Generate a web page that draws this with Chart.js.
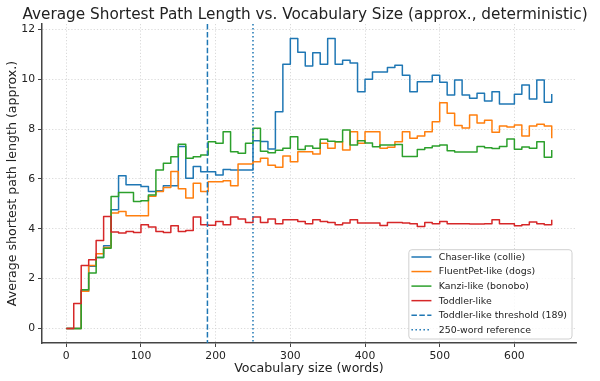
<!DOCTYPE html>
<html>
<head>
<meta charset="utf-8">
<script src="https://cdn.jsdelivr.net/npm/chart.js@4.4.0/dist/chart.umd.min.js"></script>
<style>
  html, body { margin: 0; padding: 0; background: #fff; }
  #wrap { width: 600px; height: 381px; }
</style>
</head>
<body>
<div id="wrap"><canvas id="pathChart" width="600" height="381"></canvas></div>
<script>
// vocabulary sizes (x), one step every 10 words
const vocabSizes = [
  0, 10, 20, 30, 40, 50, 60, 70, 80, 90,
  100, 110, 120, 130, 140, 150, 160, 170, 180, 190,
  200, 210, 220, 230, 240, 250, 260, 270, 280, 290,
  300, 310, 320, 330, 340, 350, 360, 370, 380, 390,
  400, 410, 420, 430, 440, 450, 460, 470, 480, 490,
  500, 510, 520, 530, 540, 550, 560, 570, 580, 590,
  600, 610, 620, 630, 640, 650
];

const chaserLike = [
  0, 0, 1.5, 2.5, 2.85, 3.32, 4.76, 6.13, 5.76, 5.76,
  5.69, 5.49, 5.52, 5.72, 5.72, 7.3, 6.03, 6.5, 6.29, 6.29,
  6.16, 6.38, 6.36, 6.36, 6.36, 7.53, 7.5, 7.2, 8.69, 10.6,
  11.63, 11.08, 10.53, 11.06, 10.6, 11.63, 10.6, 10.76, 10.65, 9.49,
  9.99, 10.29, 10.29, 10.47, 10.56, 10.16, 9.49, 9.89, 9.89, 10.16,
  9.87, 9.36, 9.96, 9.36, 9.23, 9.43, 9.12, 9.49, 9.0, 9.0,
  9.39, 9.76, 9.2, 9.96, 9.07, 9.4
];

const fluentPetLike = [
  0, 0, 1.49, 2.53, 3.0, 3.25, 4.63, 4.69, 4.52, 4.52,
  4.52, 5.3, 5.49, 5.65, 6.3, 5.6, 5.23, 5.83, 5.49, 5.89,
  5.89, 5.93, 5.72, 6.6, 6.6, 6.69, 6.83, 6.55, 6.47, 6.92,
  6.69, 7.09, 7.09, 7.0, 7.43, 7.23, 7.49, 7.16, 7.89, 7.43,
  7.89, 7.89, 7.23, 7.27, 7.49, 7.89, 7.63, 7.72, 7.89, 8.29,
  9.05, 8.63, 8.14, 8.04, 8.56, 8.24, 8.35, 7.87, 8.12, 8.08,
  8.16, 7.72, 8.12, 8.19, 8.12, 7.63
];

const kanziLike = [
  0, 0, 1.56, 2.23, 2.85, 3.22, 5.29, 5.45, 5.45, 5.09,
  5.12, 5.35, 6.36, 6.63, 6.89, 7.39, 6.83, 6.89, 6.96, 7.49,
  7.43, 7.89, 7.09, 7.03, 7.43, 8.03, 7.11, 7.05, 7.15, 7.23,
  7.69, 7.18, 7.32, 7.23, 7.59, 7.51, 7.49, 7.96, 7.36, 7.53,
  7.44, 7.29, 7.36, 7.36, 7.38, 6.9, 6.9, 7.18, 7.25, 7.32,
  7.36, 7.13, 7.08, 7.08, 7.08, 7.3, 7.25, 7.22, 7.3, 7.6,
  7.19, 7.28, 7.23, 7.49, 6.87, 7.16
];

const toddlerLike = [
  0, 1.0, 2.53, 2.76, 3.53, 4.49, 3.87, 3.83, 3.89, 3.85,
  4.16, 4.07, 3.89, 3.85, 4.12, 3.89, 3.93, 4.47, 4.16, 4.14,
  4.29, 4.16, 4.47, 4.39, 4.25, 4.47, 4.25, 4.39, 4.2, 4.36,
  4.36, 4.29, 4.2, 4.36, 4.29, 4.25, 4.16, 4.23, 4.36, 4.23,
  4.23, 4.23, 4.13, 4.25, 4.25, 4.23, 4.2, 4.09, 4.25, 4.2,
  4.29, 4.2, 4.2, 4.2, 4.19, 4.19, 4.2, 4.36, 4.2, 4.2,
  4.12, 4.16, 4.27, 4.2, 4.16, 4.36
];

const toddlerThreshold = 189;
const wordReference = 250;

const xTicks = [0, 100, 200, 300, 400, 500, 600];
const yTicks = [0, 2, 4, 6, 8, 10, 12];

const chartTitle = 'Average Shortest Path Length vs. Vocabulary Size (approx., deterministic)';

const FONT = '"DejaVu Sans", sans-serif';
const BLUE = '#1f77b4';

function toPoints(values) {
  return vocabSizes.map((x, i) => ({ x: x, y: values[i] }));
}

const series = [
  { label: 'Chaser-like (collie)', values: chaserLike, color: '#1f77b4', order: 3 },
  { label: 'FluentPet-like (dogs)', values: fluentPetLike, color: '#ff7f0e', order: 2 },
  { label: 'Kanzi-like (bonobo)', values: kanziLike, color: '#2ca02c', order: 1 },
  { label: 'Toddler-like', values: toddlerLike, color: '#d62728', order: 0 }
];

const legendItems = [
  ...series.map(s => ({ label: s.label, color: s.color, dash: [] })),
  { label: 'Toddler-like threshold (' + toddlerThreshold + ')', color: BLUE, dash: [5.5, 2.4] },
  { label: wordReference + '-word reference', color: BLUE, dash: [1.5, 2.5] }
];

// title centred over the plot area, like matplotlib does
const titleText = {
  id: 'titleText',
  afterDraw(chart) {
    const { ctx, chartArea } = chart;
    ctx.save();
    ctx.font = '15.3px ' + FONT;
    ctx.fillStyle = '#222';
    ctx.textAlign = 'center';
    ctx.textBaseline = 'middle';
    ctx.fillText(chartTitle, (chartArea.left + chartArea.right) / 2 - 4, 15);
    ctx.restore();
  }
};

// vertical reference lines, drawn through the x scale
const markerLines = {
  id: 'markerLines',
  afterDatasetsDraw(chart) {
    const { ctx, chartArea, scales } = chart;
    const lines = [
      { value: toddlerThreshold, dash: [5.5, 2.4] },
      { value: wordReference, dash: [1.5, 2.5] }
    ];
    ctx.save();
    ctx.beginPath();
    ctx.rect(chartArea.left, chartArea.top, chartArea.width, chartArea.height);
    ctx.clip();
    ctx.strokeStyle = BLUE;
    ctx.lineWidth = 1.5;
    lines.forEach(l => {
      const px = scales.x.getPixelForValue(l.value);
      ctx.setLineDash(l.dash);
      ctx.beginPath();
      ctx.moveTo(px, chartArea.top);
      ctx.lineTo(px, chartArea.bottom);
      ctx.stroke();
    });
    ctx.restore();
  }
};

// matplotlib-like legend box in the lower right corner
const legendBox = {
  id: 'legendBox',
  afterDraw(chart) {
    const { ctx, chartArea } = chart;
    ctx.save();
    ctx.font = '9.4px ' + FONT;
    const rowH = 14.55;
    const textW = Math.max(...legendItems.map(it => ctx.measureText(it.label).width));
    const boxW = 30 + textW + 5;
    const boxH = legendItems.length * rowH + 2;
    const x0 = chartArea.right - 4 - boxW;
    const y0 = chartArea.bottom - 4 - boxH;

    ctx.fillStyle = 'rgba(255,255,255,0.8)';
    ctx.strokeStyle = '#d0d0d0';
    ctx.lineWidth = 1;
    ctx.beginPath();
    ctx.roundRect(x0, y0, boxW, boxH, 3);
    ctx.fill();
    ctx.stroke();

    ctx.textBaseline = 'middle';
    legendItems.forEach((it, i) => {
      const cy = y0 + 7.3 + i * rowH;
      ctx.strokeStyle = it.color;
      ctx.lineWidth = 1.5;
      ctx.setLineDash(it.dash);
      ctx.beginPath();
      ctx.moveTo(x0 + 2.6, cy);
      ctx.lineTo(x0 + 22.6, cy);
      ctx.stroke();
      ctx.setLineDash([]);
      ctx.fillStyle = '#222';
      ctx.fillText(it.label, x0 + 30, cy + 0.5);
    });
    ctx.restore();
  }
};

new Chart(document.getElementById('pathChart'), {
  type: 'line',
  data: {
    datasets: series.map(s => ({
      label: s.label,
      data: toPoints(s.values),
      borderColor: s.color,
      backgroundColor: s.color,
      borderWidth: 1.5,
      stepped: 'before',
      pointRadius: 0,
      fill: false,
      order: s.order,
      borderJoinStyle: 'round'
    }))
  },
  options: {
    responsive: false,
    animation: false,
    devicePixelRatio: 1,
    layout: { padding: { left: 0, right: 24, top: 24, bottom: 0 } },
    plugins: {
      legend: { display: false },
      tooltip: { enabled: false },
      title: { display: false }
    },
    scales: {
      x: {
        type: 'linear',
        min: -32.5,
        max: 682.5,
        afterBuildTicks: s => { s.ticks = xTicks.map(v => ({ value: v })); },
        afterFit: s => { s.height = 38; },
        ticks: {
          color: '#222',
          font: { family: FONT, size: 10.8 },
          padding: 3,
          maxRotation: 0,
          autoSkip: false,
          callback: v => String(v)
        },
        grid: {
          color: '#cfcfcf',
          lineWidth: 0.8,
          drawTicks: true,
          tickLength: 4,
          tickColor: '#444',
          tickWidth: 1
        },
        border: { display: true, color: '#444', width: 1.5, dash: [1.2, 2] },
        title: {
          display: true,
          text: 'Vocabulary size (words)',
          color: '#222',
          font: { family: FONT, size: 12.6 },
          padding: { top: 0, bottom: 5 }
        }
      },
      y: {
        min: -0.58,
        max: 12.21,
        afterBuildTicks: s => { s.ticks = yTicks.map(v => ({ value: v })); },
        afterFit: s => { s.width = 42; },
        ticks: {
          color: '#222',
          font: { family: FONT, size: 10.8 },
          padding: 3,
          callback: v => String(v)
        },
        grid: {
          color: '#cfcfcf',
          lineWidth: 0.8,
          drawTicks: true,
          tickLength: 4,
          tickColor: '#444',
          tickWidth: 1
        },
        border: { display: true, color: '#444', width: 1.5, dash: [1.2, 2] },
        title: {
          display: true,
          text: 'Average shortest path length (approx.)',
          color: '#222',
          font: { family: FONT, size: 12.6 },
          padding: { top: 5, bottom: 0 }
        }
      }
    }
  },
  plugins: [markerLines, legendBox, titleText]
});
</script>
</body>
</html>
